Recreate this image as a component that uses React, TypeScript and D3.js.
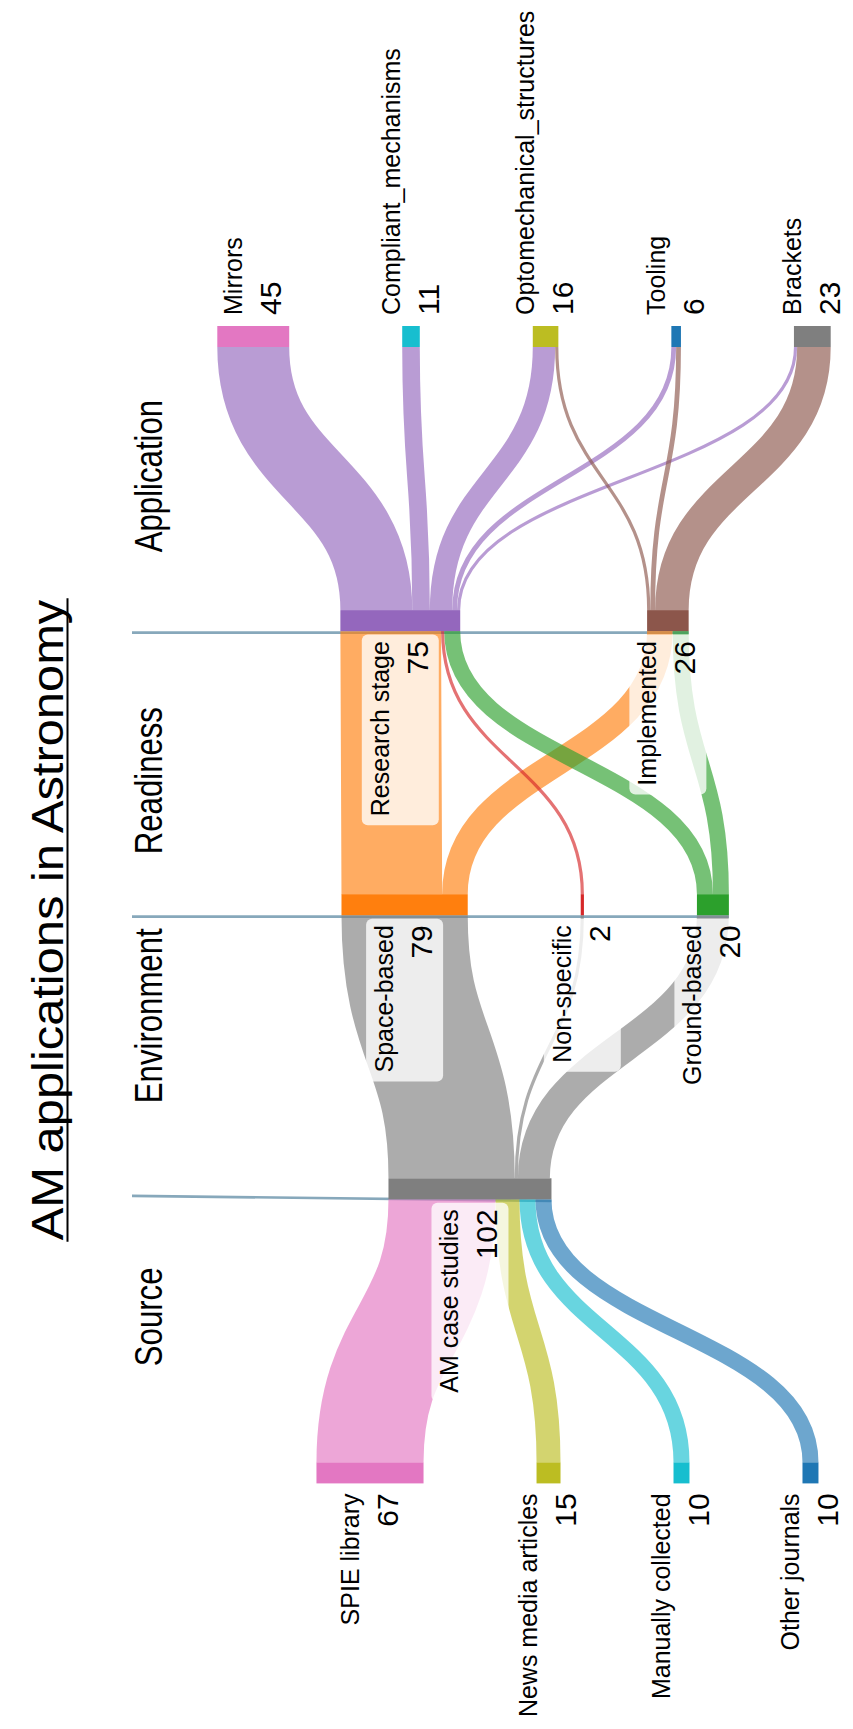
import React, { useMemo } from 'react';
import * as d3 from 'd3';

const chartTitle = 'AM applications in Astronomy';
const stageTitles = ['Source', 'Environment', 'Readiness', 'Application'];

// nodes of every stage, in the order they are stacked
const sourceNames = ['SPIE library', 'News media articles', 'Manually collected', 'Other journals'];
const hubNames = ['AM case studies'];
const environmentNames = ['Space-based', 'Non-specific', 'Ground-based'];
const readinessNames = ['Research stage', 'Implemented'];
const applicationNames = ['Mirrors', 'Compliant_mechanisms', 'Optomechanical_structures', 'Tooling', 'Brackets'];

// order in which the nodes were entered (drives the colour cycle)
const entryOrder = [
  'SPIE library', 'AM case studies', 'News media articles', 'Manually collected', 'Other journals',
  'Space-based', 'Ground-based', 'Non-specific', 'Research stage', 'Implemented',
  'Mirrors', 'Brackets', 'Optomechanical_structures', 'Compliant_mechanisms', 'Tooling',
];

// flow values
const sourceToHub = [67, 15, 10, 10];
const hubToEnvironment = [79, 2, 20];
const environmentToReadiness = [[63, 16], [2, 0], [10, 10]];
const readinessToApplication = [[45, 11, 14, 3, 2], [0, 0, 2, 3, 21]];

// ---------- layout constants ----------
const W = 853;
const H = 1729;
const CROSS: [number, number] = [217.3, 830.7];
const NODE_PAD = 113;
const NODE_THICK = 21;
const FLOW_RANGE: [number, number] = [1462.4, 326];
const NAME_SIZE = 25;
const VALUE_SIZE = 30;
const FONT = '"Liberation Sans", Arial, sans-serif';
const LINK_OPACITY = 0.65;

type Node = { name: string; layer: number; rank: number; value: number; b0: number; b1: number; src: Link[]; tgt: Link[] };
type Link = { source: Node; target: Node; value: number; width: number; os: number; ot: number };
type Graph = { nodes: Node[]; links: Link[]; columns: Node[][] };

function buildGraph(): Graph {
  const stages = [sourceNames, hubNames, environmentNames, readinessNames, applicationNames];
  const byName = new Map<string, Node>();
  stages.forEach((names, layer) => names.forEach((name, rank) => {
    byName.set(name, { name, layer, rank, value: 0, b0: 0, b1: 0, src: [], tgt: [] });
  }));
  const links: Link[] = [];
  const add = (a: string, b: string, v: number) => {
    if (!v) return;
    const l: Link = { source: byName.get(a)!, target: byName.get(b)!, value: v, width: 0, os: 0, ot: 0 };
    links.push(l);
    l.source.src.push(l);
    l.target.tgt.push(l);
  };
  sourceNames.forEach((s, i) => add(s, hubNames[0], sourceToHub[i]));
  environmentNames.forEach((e, j) => add(hubNames[0], e, hubToEnvironment[j]));
  environmentNames.forEach((e, j) => readinessNames.forEach((r, k) => add(e, r, environmentToReadiness[j][k])));
  readinessNames.forEach((r, k) => applicationNames.forEach((a, m) => add(r, a, readinessToApplication[k][m])));
  const nodes = [...byName.values()];
  nodes.forEach((n) => (n.value = Math.max(d3.sum(n.src, (l) => l.value), d3.sum(n.tgt, (l) => l.value))));
  const columns = stages.map((names) => names.map((n) => byName.get(n)!));
  return { nodes, links, columns };
}

// weighted isotonic (non-decreasing) regression, pool-adjacent-violators
function isotonic(vals: number[], ws: number[]) {
  const blocks: { v: number; w: number; n: number }[] = [];
  vals.forEach((v, i) => {
    blocks.push({ v, w: ws[i], n: 1 });
    while (blocks.length > 1 && blocks[blocks.length - 2].v > blocks[blocks.length - 1].v) {
      const b = blocks.pop()!;
      const a = blocks.pop()!;
      blocks.push({ v: (a.v * a.w + b.v * b.w) / (a.w + b.w), w: a.w + b.w, n: a.n + b.n });
    }
  });
  const out: number[] = [];
  blocks.forEach((b) => { for (let i = 0; i < b.n; i++) out.push(b.v); });
  return out;
}

// place nodes so that flows run as straight as possible (value-weighted), nodes kept apart by the padding
function layoutSankey(g: Graph, sweeps = 400) {
  const [y0, y1] = CROSS;
  const py = NODE_PAD;
  const cols = g.columns;
  const ky = d3.min(cols, (c) => (y1 - y0 - (c.length - 1) * py) / d3.sum(c, (n) => n.value))!;
  g.links.forEach((l) => (l.width = l.value * ky));
  g.nodes.forEach((n) => {
    n.src.sort((a, b) => a.target.rank - b.target.rank);
    n.tgt.sort((a, b) => a.source.rank - b.source.rank);
    let s = 0;
    n.src.forEach((l) => { l.os = s; s += l.width; });
    let t = 0;
    n.tgt.forEach((l) => { l.ot = t; t += l.width; });
  });
  cols.forEach((c) => {
    let y = y0;
    c.forEach((n) => { n.b0 = y; n.b1 = y + n.value * ky; y = n.b1 + py; });
  });
  const solveColumn = (c: Node[]) => {
    const offs: number[] = [];
    const want: number[] = [];
    const ws: number[] = [];
    let acc = 0;
    c.forEach((n) => {
      offs.push(acc);
      let num = 0, den = 0;
      n.tgt.forEach((l) => { num += l.value * (l.source.b0 + l.os - l.ot); den += l.value; });
      n.src.forEach((l) => { num += l.value * (l.target.b0 + l.ot - l.os); den += l.value; });
      want.push((den ? num / den : n.b0) - acc);
      ws.push(den || 1e-9);
      acc += n.value * ky + py;
    });
    const fit = isotonic(want, ws);
    const lo = y0;
    const hi = y1 - (acc - py);
    c.forEach((n, i) => {
      const base = Math.max(lo, Math.min(fit[i], hi));
      n.b0 = base + offs[i];
      n.b1 = n.b0 + n.value * ky;
    });
  };
  for (let s = 0; s < sweeps; s++) {
    const order = s % 2 === 0 ? cols : cols.slice().reverse();
    order.forEach(solveColumn);
  }
}

let measureCtx: CanvasRenderingContext2D | null = null;
function textWidth(s: string, size: number) {
  if (!measureCtx) measureCtx = document.createElement('canvas').getContext('2d');
  if (!measureCtx) return s.length * size * 0.55;
  measureCtx.font = `${size}px "Liberation Sans"`;
  return measureCtx.measureText(s).width;
}

export default function App() {
  const graph = useMemo(() => {
    const g = buildGraph();
    layoutSankey(g);
    return g;
  }, []);

  const palette = [...d3.schemeCategory10.slice(6), ...d3.schemeCategory10.slice(0, 6)];
  const color = d3.scaleOrdinal<string, string>(entryOrder, palette);
  const lastLayer = graph.columns.length - 1;
  const flowY = d3.scaleLinear().domain([0, lastLayer]).range(FLOW_RANGE);
  const link = d3.linkVertical<any, [number, number]>().x((d) => d[0]).y((d) => d[1]);

  // hand-drawn separators at the foot of the middle stages (the lowest one is slightly tilted)
  const separatorTilt = [-5, 0, 0];
  const separators = [1, 2, 3].map((c, i) => {
    const y = flowY(c) + NODE_THICK + 1.5;
    return { y0: y + separatorTilt[i], y1: y, x1: d3.max(graph.columns[c], (n) => n.b1)! };
  });

  const gaps = [0, 1, 2, 3].map((c) => (flowY(c) + flowY(c + 1) + NODE_THICK) / 2);
  const headerShift = [-14, -31, 18, -2.5];

  const TITLE_SIZE = 44;
  const TITLE_STRETCH = 1.11;
  const titleX = 62.5;
  const titleY = 920;
  const titleLen = textWidth(chartTitle, TITLE_SIZE) * TITLE_STRETCH;

  return (
    <svg width={W} height={H} style={{ position: 'absolute', left: 0, top: 0, background: '#fff' }} fontFamily={FONT}>
      <rect width={W} height={H} fill="#fff" />
      <text transform={`translate(${titleX},${titleY}) rotate(-90) scale(${TITLE_STRETCH},1)`} textAnchor="middle" fontSize={TITLE_SIZE} fill="#000">{chartTitle}</text>
      <line x1={titleX + 5} x2={titleX + 5} y1={titleY - titleLen / 2} y2={titleY + titleLen / 2} stroke="#000" strokeWidth={2} />
      {stageTitles.map((t, i) => (
        <text key={t} transform={`translate(162,${gaps[i] + headerShift[i]}) rotate(-90) scale(0.82,1)`} textAnchor="middle" fontSize={38} fill="#000">{t}</text>
      ))}
      {separators.map((s, i) => (
        <line key={i} x1={132} x2={s.x1} y1={s.y0} y2={s.y1} stroke="#87a8bb" strokeWidth={2.7} />
      ))}
      <g fill="none">
        {graph.links.map((l, i) => (
          <path key={i}
            d={link({
              source: [l.source.b0 + l.os + l.width / 2, flowY(l.source.layer)],
              target: [l.target.b0 + l.ot + l.width / 2, flowY(l.target.layer) + NODE_THICK],
            } as any)!}
            stroke={color(l.source.name)} strokeOpacity={LINK_OPACITY} strokeWidth={Math.max(1, l.width)} />
        ))}
      </g>
      {graph.nodes.map((n) => (
        <rect key={n.name} x={n.b0} y={flowY(n.layer)} width={n.b1 - n.b0} height={NODE_THICK} fill={color(n.name)} />
      ))}
      {graph.nodes.map((n) => {
        const top = flowY(n.layer);
        const bottom = top + NODE_THICK;
        const cx = (n.b0 + n.b1) / 2;
        const after = n.layer === lastLayer;
        const ay = after ? top - 11 : bottom + 10;
        const len = Math.max(textWidth(n.name, NAME_SIZE), textWidth(String(n.value), VALUE_SIZE));
        const by0 = after ? ay - len - 9 : bottom + 3.5;
        const by1 = after ? top - 3.5 : ay + len + 9;
        const anchor = after ? 'start' : 'end';
        return (
          <g key={n.name}>
            <rect x={cx - 38.5} y={by0} width={77} height={by1 - by0} rx={6} fill="#fff" fillOpacity={0.78} />
            <text transform={`translate(${cx - 11.5},${ay}) rotate(-90)`} textAnchor={anchor} fontSize={NAME_SIZE} fill="#000">{n.name}</text>
            <text transform={`translate(${cx + 27.5},${ay}) rotate(-90)`} textAnchor={anchor} fontSize={VALUE_SIZE} fill="#000">{n.value}</text>
          </g>
        );
      })}
    </svg>
  );
}
